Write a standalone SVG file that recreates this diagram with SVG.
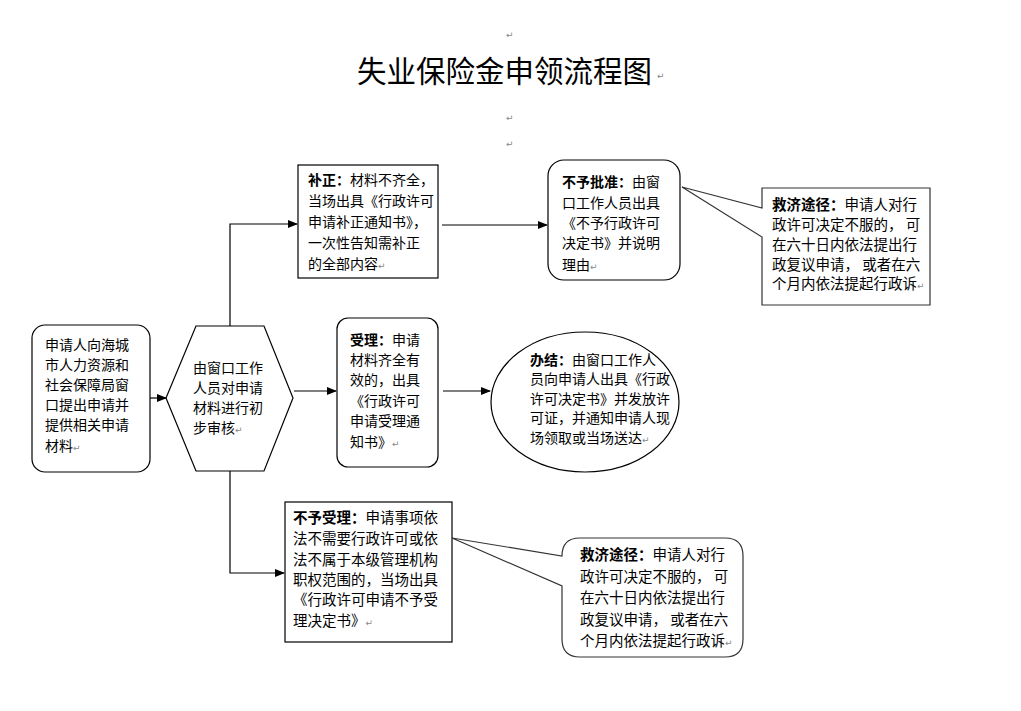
<svg xmlns="http://www.w3.org/2000/svg" width="1021" height="711" viewBox="0 0 1021 711">
<defs>
<marker id="ah" markerWidth="10" markerHeight="8" refX="9" refY="4" orient="auto" markerUnits="userSpaceOnUse">
<path d="M0,0 L10,4 L0,8 Z" fill="#000"/>
</marker>
<style>
.t{font-family:"Noto Sans CJK SC","Liberation Sans",sans-serif;font-size:14px;fill:#000}
.tl{font-family:"Noto Sans CJK SC","Liberation Sans",sans-serif;font-size:14.5px;fill:#000}
.b{font-weight:bold}
.rt{font-family:"DejaVu Sans",sans-serif;font-size:9px;fill:#888;font-weight:normal}
.box{fill:#fff;stroke:#000;stroke-width:1.2}
.call{fill:#fff;stroke:#333;stroke-width:1.2}
.ln{fill:none;stroke:#000;stroke-width:1.2}
</style>
</defs>
<rect width="1021" height="711" fill="#fff"/>

<g id="title">
<text x="357" y="82" font-family="Noto Sans CJK SC, sans-serif" font-size="29.5" fill="#000">失业保险金申领流程图</text>
<text x="657" y="79" class="rt">↵</text>
<text x="506" y="38" class="rt">↵</text>
<text x="506" y="121" class="rt">↵</text>
<text x="506" y="147" class="rt">↵</text>
</g>

<g id="connectors">
<line class="ln" x1="150" y1="398" x2="166" y2="398" marker-end="url(#ah)"/>
<line class="ln" x1="294" y1="391" x2="336" y2="391" marker-end="url(#ah)"/>
<line class="ln" x1="443" y1="391" x2="490" y2="391" marker-end="url(#ah)"/>
<line class="ln" x1="442" y1="225" x2="547" y2="225" marker-end="url(#ah)"/>
<polyline class="ln" points="230,326 230,224 297,224" marker-end="url(#ah)"/>
<polyline class="ln" points="230,471 230,573 284,573" marker-end="url(#ah)"/>
<path d="M336,553 L343,556.5 L336,560 Z" fill="#000"/>
</g>

<g id="apply">
<rect class="box" x="32" y="325" width="118" height="147" rx="13"/>
<text class="t" x="45" y="350">申请人向海城<tspan x="45" y="370">市人力资源和</tspan><tspan x="45" y="390">社会保障局窗</tspan><tspan x="45" y="410">口提出申请并</tspan><tspan x="45" y="430">提供相关申请</tspan><tspan x="45" y="451">材料</tspan><tspan class="rt">↵</tspan></text>
</g>

<g id="review">
<polygon class="box" points="166,398 196,326 264,326 293,398 264,471 196,471"/>
<text class="t" x="193" y="373">由窗口工作<tspan x="193" y="393">人员对申请</tspan><tspan x="193" y="413">材料进行初</tspan><tspan x="193" y="433">步审核</tspan><tspan class="rt">↵</tspan></text>
</g>

<g id="correct">
<rect class="box" x="298" y="165" width="140" height="113"/>
<text class="t" x="308" y="185"><tspan class="b">补正：</tspan>材料不齐全，<tspan x="308" y="206">当场出具《行政许可</tspan><tspan x="308" y="227">申请补正通知书》，</tspan><tspan x="308" y="248">一次性告知需补正</tspan><tspan x="308" y="269">的全部内容</tspan><tspan class="rt">↵</tspan></text>
</g>

<g id="reject">
<rect class="box" x="548" y="160" width="132" height="120" rx="16"/>
<text class="t" x="562" y="187"><tspan class="b">不予批准：</tspan>由窗<tspan x="562" y="208">口工作人员出具</tspan><tspan x="562" y="228">《不予行政许可</tspan><tspan x="562" y="248">决定书》并说明</tspan><tspan x="562" y="270">理由</tspan><tspan class="rt">↵</tspan></text>
</g>

<g id="remedy1">
<path class="call" d="M762,188 H930 V305 H762 V237 L682,187 L762,208 Z"/>
<text class="tl" x="772" y="210"><tspan class="b">救济途径：</tspan>申请人对行<tspan x="772" y="230">政许可决定不服的， 可</tspan><tspan x="772" y="250">在六十日内依法提出行</tspan><tspan x="772" y="270">政复议申请， 或者在六</tspan><tspan x="772" y="289">个月内依法提起行政诉</tspan><tspan class="rt">↵</tspan></text>
</g>

<g id="accept">
<rect class="box" x="337" y="318" width="101" height="149" rx="11"/>
<text class="t" x="350" y="345"><tspan class="b">受理：</tspan>申请<tspan x="350" y="365">材料齐全有</tspan><tspan x="350" y="385">效的，出具</tspan><tspan x="350" y="406">《行政许可</tspan><tspan x="350" y="426">申请受理通</tspan><tspan x="350" y="447">知书》</tspan><tspan class="rt">↵</tspan></text>
</g>

<g id="done">
<ellipse class="box" cx="585" cy="402" rx="94" ry="70"/>
<text class="t" x="530" y="365"><tspan class="b">办结：</tspan>由窗口工作人<tspan x="530" y="384">员向申请人出具《行政</tspan><tspan x="530" y="404">许可决定书》并发放许</tspan><tspan x="530" y="423">可证，并通知申请人现</tspan><tspan x="530" y="443">场领取或当场送达</tspan><tspan class="rt">↵</tspan></text>
</g>

<g id="notaccept">
<rect class="box" x="285" y="502" width="167" height="140"/>
<text class="tl" x="293" y="523"><tspan class="b">不予受理：</tspan>申请事项依<tspan x="293" y="544">法不需要行政许可或依</tspan><tspan x="293" y="565">法不属于本级管理机构</tspan><tspan x="293" y="585">职权范围的，当场出具</tspan><tspan x="293" y="605">《行政许可申请不予受</tspan><tspan x="293" y="626">理决定书》</tspan><tspan class="rt">↵</tspan></text>
</g>

<g id="remedy2">
<path class="call" d="M580,538 H725 Q743,538 743,556 V639 Q743,657 725,657 H580 Q562,657 562,639 V586 L452,538 L562,556 Q562,538 580,538 Z"/>
<text class="tl" x="580" y="560"><tspan class="b">救济途径：</tspan>申请人对行<tspan x="580" y="582">政许可决定不服的， 可</tspan><tspan x="580" y="603">在六十日内依法提出行</tspan><tspan x="580" y="625">政复议申请， 或者在六</tspan><tspan x="580" y="646">个月内依法提起行政诉</tspan><tspan class="rt">↵</tspan></text>
</g>
</svg>
